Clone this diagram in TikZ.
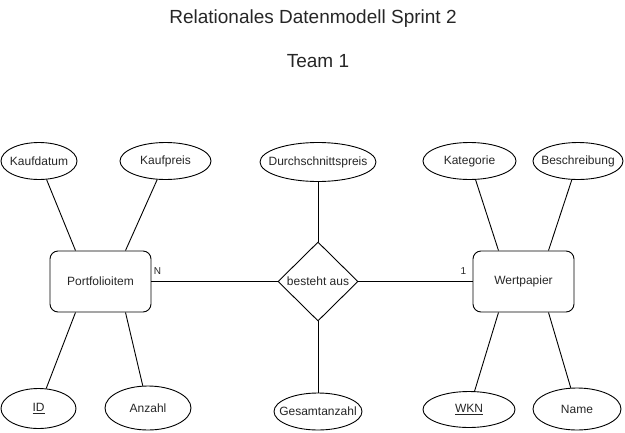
\documentclass[tikz,border=0pt]{standalone}
\usepackage{fontspec}
\setmainfont{Liberation Sans}
\usepackage{tikz}
\usetikzlibrary{shapes.geometric}
\usetikzlibrary{positioning}

\begin{document}
\begin{tikzpicture}[
  x=1pt, y=-1pt, line width=0.9pt,
  every node/.style = {font=\fontsize{12}{14}\selectfont, text=black!85},
  entity/.style = {draw, rectangle, rounded corners=8pt, minimum width=101pt, minimum height=61pt},
  relation/.style = {draw, diamond, aspect=1, inner sep=0pt, minimum width=80pt, minimum height=79pt},
  attr/.style = {draw, ellipse, inner sep=0pt, minimum width=#1, minimum height=37pt,
    execute at begin node={\hbox to 0pt\bgroup\hss}, execute at end node={\hss\egroup}},
  card/.style = {inner sep=0pt, font=\fontsize{10}{12}\selectfont},
  heading/.style = {inner sep=0pt, anchor=base, font=\fontsize{19}{23}\selectfont}
  ]
	\useasboundingbox (0,0) rectangle (625,432);

	% titles
	\node[heading] (title) at (313,23) {Relationales Datenmodell Sprint 2};
	\node[heading] (team) at (318,67) {Team 1};

	% entities and relation
	\node[entity] (port) at (100.5,281.5) {Portfolioitem};
	\node[entity] (wert) at (523.5,281.5) {Wertpapier};
	\node[relation] (rel) at (318,281.5) {besteht aus};

	% attributes
	\node[attr=76pt] (kaufdatum) at (39,161) {Kaufdatum};
	\node[attr=91pt] (kaufpreis) at (165.5,161) {Kaufpreis};
	\node[attr=116pt, minimum height=39pt] (durch) at (318,162) {Durchschnittspreis};
	\node[attr=93pt] (kategorie) at (469.5,161) {Kategorie};
	\node[attr=90pt] (beschr) at (578,161) {Beschreibung};
	\node[attr=75pt, minimum height=40pt] (id) at (38.5,408.5) {\underline{ID}};
	\node[attr=86pt, minimum height=44pt] (anzahl) at (148,408) {Anzahl};
	\node[attr=88pt] (gesamt) at (318,411.5) {Gesamtanzahl};
	\node[attr=92pt, minimum height=36pt] (wkn) at (469,409.5) {\underline{WKN}};
	\node[attr=88pt, minimum height=42pt] (name) at (577,409) {Name};

	% connectors
	\draw (kaufdatum) -- ([xshift=-25pt]port.north);
	\draw (kaufpreis) -- ([xshift=25pt]port.north);
	\draw (id) -- ([xshift=-25pt]port.south);
	\draw (anzahl) -- ([xshift=25pt]port.south);
	\draw (kategorie) -- ([xshift=-25pt]wert.north);
	\draw (beschr) -- ([xshift=25pt]wert.north);
	\draw (wkn) -- ([xshift=-25pt]wert.south);
	\draw (name) -- ([xshift=25pt]wert.south);
	\draw (rel) -- (durch);
	\draw (rel) -- (gesamt);
	\draw (port) -- (rel);
	\draw (rel) -- (wert);

	% cardinalities
	\node[card, anchor=base west] (cardN) at ([xshift=2pt, yshift=7.5pt]port.east) {N};
	\node[card, anchor=base east] (card1) at ([xshift=-6pt, yshift=7.5pt]wert.west) {1};

\end{tikzpicture}
\end{document}
